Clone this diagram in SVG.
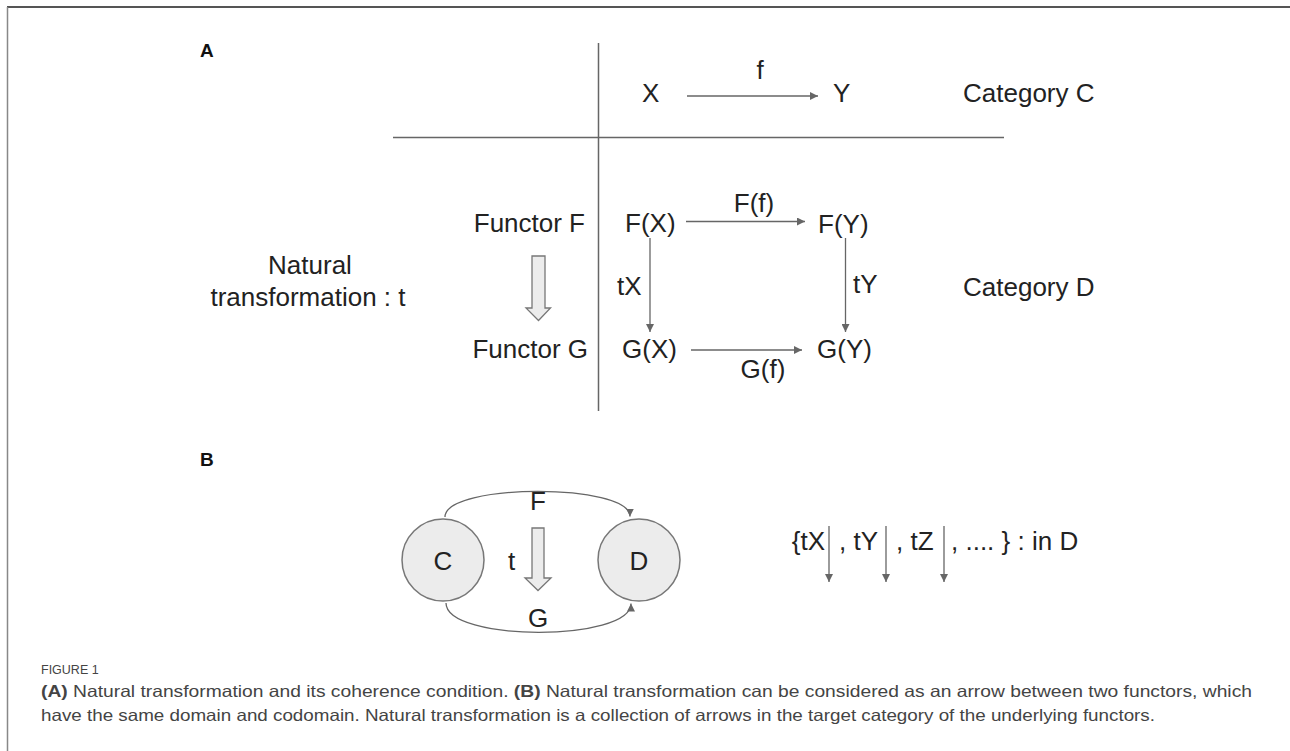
<svg xmlns="http://www.w3.org/2000/svg" width="1290" height="751" viewBox="0 0 1290 751">
  <style>
    .lbl { font-family: "Liberation Sans", Arial, sans-serif; font-size: 26px; fill: #222; }
    .panel { font-family: "Liberation Sans", Arial, sans-serif; font-size: 19px; font-weight: bold; fill: #111; }
    .rule { stroke: #666; stroke-width: 1.5; fill: none; }
    .edge { stroke: #666; stroke-width: 1.3; fill: none; }
    .hollow { fill: #ececec; stroke: #777; stroke-width: 1.3; }
    .obj { fill: #ececec; stroke: #777; stroke-width: 1.5; }
    .cap { font-family: "Liberation Sans", Arial, sans-serif; fill: #444; }
  </style>
  <defs>
    <marker id="tip" viewBox="0 0 10 10" refX="10" refY="5" markerWidth="8" markerHeight="8" markerUnits="userSpaceOnUse" orient="auto">
      <path d="M0,0 L10,5 L0,10 z" fill="#666"/>
    </marker>
  </defs>

  <rect width="1290" height="751" fill="#fff"/>

  <!-- frame -->
  <line x1="7" y1="7" x2="1290" y2="7" stroke="#555" stroke-width="2"/>
  <line x1="7.5" y1="7" x2="7.5" y2="751" stroke="#888" stroke-width="1.5"/>

  <!-- panel labels -->
  <text class="panel" x="200" y="57">A</text>
  <text class="panel" x="200" y="466">B</text>

  <!-- table rules -->
  <g id="rules">
    <line class="rule" x1="598.5" y1="43" x2="598.5" y2="411"/>
    <line class="rule" x1="393" y1="137.5" x2="1004" y2="137.5"/>
  </g>

  <!-- objects of category C -->
  <g id="node-X"><text class="lbl" x="642" y="102">X</text></g>
  <g id="node-Y"><text class="lbl" x="833" y="102">Y</text></g>
  <g id="label-catC"><text class="lbl" x="963" y="102">Category C</text></g>

  <!-- functor rows -->
  <g id="label-functorF"><text class="lbl" x="585" y="232" text-anchor="end">Functor F</text></g>
  <g id="label-functorG"><text class="lbl" x="588" y="358" text-anchor="end">Functor G</text></g>
  <g id="node-FX"><text class="lbl" x="625" y="232">F(X)</text></g>
  <g id="node-FY"><text class="lbl" x="818" y="233">F(Y)</text></g>
  <g id="node-GX"><text class="lbl" x="622" y="358">G(X)</text></g>
  <g id="node-GY"><text class="lbl" x="817" y="358">G(Y)</text></g>
  <g id="label-catD"><text class="lbl" x="963" y="296">Category D</text></g>

  <!-- natural transformation label and hollow arrow -->
  <g id="label-nat">
    <text class="lbl" x="310" y="274" text-anchor="middle">Natural</text>
    <text class="lbl" x="308" y="306" text-anchor="middle">transformation : t</text>
  </g>
  <g id="arrow-FtoG">
    <polygon class="hollow" points="532,256 545,256 545,308 550.5,308 538.5,320.5 526,308 532,308"/>
  </g>

  <!-- panel B objects -->
  <g id="node-C">
    <circle class="obj" cx="443" cy="560" r="41"/>
    <text class="lbl" x="443" y="569.5" text-anchor="middle">C</text>
  </g>
  <g id="node-D">
    <circle class="obj" cx="639" cy="560" r="41"/>
    <text class="lbl" x="639" y="569.5" text-anchor="middle">D</text>
  </g>
  <g id="arrow-t">
    <polygon class="hollow" points="532,528 544,528 544,578 551,578 538,590.5 525,578 532,578"/>
    <text class="lbl" x="508" y="570">t</text>
  </g>

  <!-- component list -->
  <g id="components">
    <text class="lbl" x="825" y="550" text-anchor="end">{tX</text>
    <text class="lbl" x="839" y="550">, tY</text>
    <text class="lbl" x="896" y="550">, tZ</text>
    <text class="lbl" x="951" y="550">, .... } :  in D</text>
  </g>

  <!-- connectors -->
  <g id="connectors">
    <line class="edge" x1="687" y1="96" x2="818" y2="96" marker-end="url(#tip)"/>
    <text class="lbl" x="760" y="79" text-anchor="middle">f</text>

    <line class="edge" x1="686" y1="221.5" x2="805" y2="221.5" marker-end="url(#tip)"/>
    <text class="lbl" x="754" y="212" text-anchor="middle">F(f)</text>

    <line class="edge" x1="691" y1="350" x2="802" y2="350" marker-end="url(#tip)"/>
    <text class="lbl" x="763" y="378" text-anchor="middle">G(f)</text>

    <line class="edge" x1="650" y1="238" x2="650" y2="332" marker-end="url(#tip)"/>
    <text class="lbl" x="617" y="295">tX</text>

    <line class="edge" x1="845.5" y1="238" x2="845.5" y2="332" marker-end="url(#tip)"/>
    <text class="lbl" x="853" y="293">tY</text>

    <path class="edge" d="M445,517 C445,483 630,483 630,516.5" marker-end="url(#tip)"/>
    <text class="lbl" x="538" y="510" text-anchor="middle">F</text>
    <path class="edge" d="M446,603 C446,642 631,642 631,603.5" marker-end="url(#tip)"/>
    <text class="lbl" x="538" y="627" text-anchor="middle">G</text>

    <line class="edge" x1="829" y1="526" x2="829" y2="582" marker-end="url(#tip)"/>
    <line class="edge" x1="886" y1="526" x2="886" y2="582" marker-end="url(#tip)"/>
    <line class="edge" x1="944" y1="526" x2="944" y2="582" marker-end="url(#tip)"/>
  </g>

  <!-- caption -->
  <g id="caption">
    <text class="cap" x="41" y="674" font-size="12.5" fill="#555">FIGURE 1</text>
    <text class="cap" x="41" y="697" font-size="16.5" textLength="1211" lengthAdjust="spacingAndGlyphs"><tspan font-weight="bold">(A)</tspan> Natural transformation and its coherence condition. <tspan font-weight="bold">(B)</tspan> Natural transformation can be considered as an arrow between two functors, which</text>
    <text class="cap" x="41" y="721" font-size="16.5" textLength="1114" lengthAdjust="spacingAndGlyphs">have the same domain and codomain. Natural transformation is a collection of arrows in the target category of the underlying functors.</text>
  </g>
</svg>
